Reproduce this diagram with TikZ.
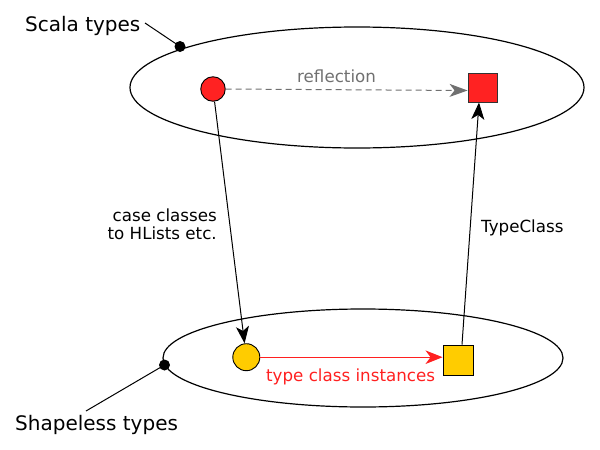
\documentclass[tikz,border=0pt]{standalone}
\usepackage{fontspec}
\setmainfont{DejaVu Sans}
\usetikzlibrary{arrows.meta,shapes.geometric}
\definecolor{rfill}{HTML}{FF2222}
\definecolor{yfill}{HTML}{FFCC00}
\definecolor{refl}{HTML}{707070}
\definecolor{rtext}{HTML}{FF2020}
\tikzset{
  typeset/.style={draw, ellipse, line width=1.2pt, inner sep=0pt},
  dotmark/.style={circle, fill=black, inner sep=0pt, minimum size=11pt},
  title/.style={inner sep=0pt, anchor=base west, font=\fontsize{20pt}{24pt}\selectfont},
  lbl/.style={inner sep=0pt, font=\fontsize{16.7pt}{20pt}\selectfont},
  circ/.style={draw, circle, line width=0.9pt, inner sep=0pt},
  sq/.style={draw, rectangle, line width=0.9pt, inner sep=0pt},
  tip/.style={-{Stealth[length=17pt,width=13pt,inset=4.5pt]}},
  conn/.style={line width=1pt, tip},
  leader/.style={line width=1pt},
}
\begin{document}
\begin{tikzpicture}[x=1pt,y=-1pt]
\useasboundingbox (0,0) rectangle (600,450);
% type sets
\node[typeset, minimum width=454pt, minimum height=121pt] (scala) at (357,87.5) {};
\node[typeset, minimum width=400pt, minimum height=98pt] (shapeless) at (363,358) {};
% dots on ellipses
\node[dotmark] (sdot) at (180,46.5) {};
\node[dotmark] (hdot) at (164.5,365) {};
% titles
\node[title] (st) at (25,31) {Scala types};
\node[title] (ht) at (15,430) {Shapeless types};
\coordinate (stend) at (145,23);
\coordinate (htend) at (86,411);
\draw[leader] (stend) -- (sdot.center);
\draw[leader] (htend) -- (hdot.center);
% elements
\node[circ, fill=rfill, minimum size=24.5pt] (rc) at (213,89) {};
\node[sq, fill=rfill, draw=black!80, minimum size=29pt] (rs) at (482.5,87.5) {};
\node[circ, fill=yfill, minimum size=27pt] (yc) at (246.3,357.2) {};
\node[sq, fill=yfill, minimum size=30pt] (ys) at (458,360) {};
% connectors
\draw[line width=1pt, refl, dash pattern=on 6pt off 4pt, -{Stealth[length=18pt,width=13pt,inset=5pt]}]
  (rc.east) -- ([yshift=-3pt]rs.west);
\draw[conn] (rc) -- (yc);
\draw[line width=1pt, rtext, -{Stealth[length=17pt,width=13.5pt,inset=5pt]}] (yc.east) -- (yc.east -| ys.west);
\draw[conn] ([xshift=4pt]ys.north) -- ([xshift=-3.5pt]rs.south);
% labels
\node[lbl, anchor=base west, text=refl] (lrefl) at (297,82) {reflection};
\node[lbl, anchor=base west, text=rtext] (ltci) at (266,381) {type class instances};
\node[lbl, anchor=base east] (lcc1) at (217,221) {case classes};
\node[lbl, anchor=base east] (lcc2) at (217,239) {to HLists etc.};
\node[lbl, anchor=base west] (ltc) at (481,232) {TypeClass};
\end{tikzpicture}
\end{document}
